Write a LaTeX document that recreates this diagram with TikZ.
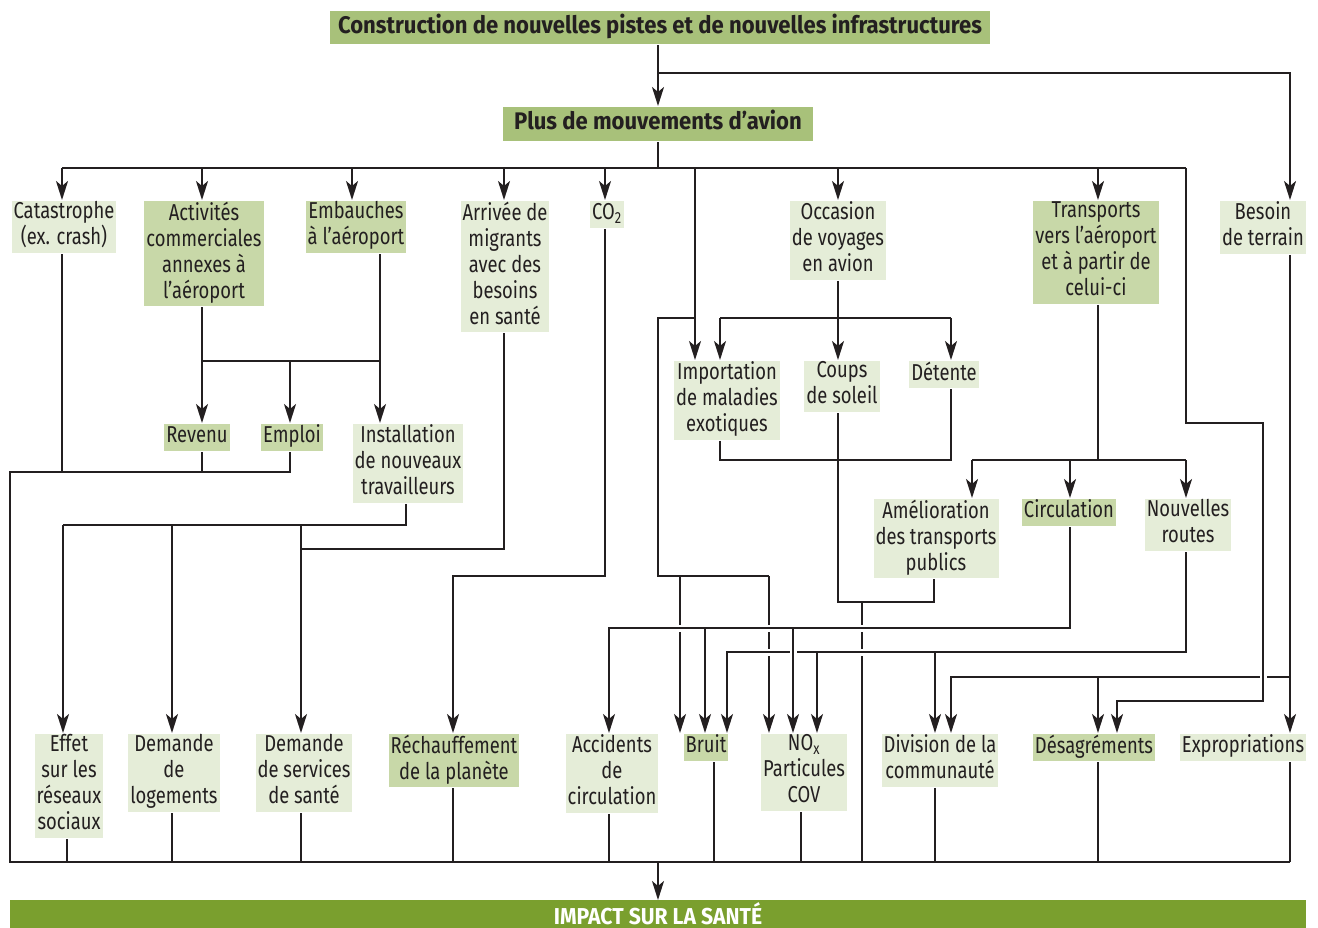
\documentclass[tikz,border=0pt]{standalone}
\usepackage{fontspec}
\setmainfont{Fira Sans}[FakeStretch=0.8]
\newfontfamily\headfont{Fira Sans}[FakeStretch=0.92]
\usetikzlibrary{arrows.meta,positioning}
\definecolor{headgreen}{HTML}{A8C17A}
\definecolor{midgreen}{HTML}{C8D8A8}
\definecolor{litegreen}{HTML}{E5EDD8}
\definecolor{impactgreen}{HTML}{7A9F2E}
\definecolor{inkgray}{HTML}{231F20}
\tikzset{
  lbl/.style={inner xsep=2pt,inner ysep=0.5pt,align=center,anchor=north,text=inkgray,
    font=\fontsize{23}{26}\selectfont,execute at begin node=\strut,execute at end node=\strut},
  lite/.style={lbl,fill=litegreen},
  mid/.style={lbl,fill=midgreen},
  head/.style={lbl,fill=headgreen,inner sep=0pt,font=\headfont\fontsize{24}{27}\selectfont\bfseries},
  arr/.style={-{Stealth[length=19pt,width=12pt,inset=5pt]}},
  bridge/.style={preaction={draw=white,line width=7pt}}
}
\begin{document}
\begin{tikzpicture}[x=1pt,y=-1pt,line width=2.2pt,color=inkgray]
\useasboundingbox (0,0) rectangle (1318,928);
\clip (0,0) rectangle (1318,928);
\fill[impactgreen] (10,900) rectangle (1306,928);
\node[head,minimum width=660,minimum height=33] (constr) at (660,10) {Construction de nouvelles pistes et de nouvelles infrastructures};
\node[head,minimum width=310,minimum height=34] (plus) at (658,106) {Plus de mouvements d’avion};
\node[inner sep=0pt,minimum height=22,anchor=north,text=white,
  font=\headfont\fontsize{23}{26}\selectfont\bfseries] (impact) at (658,901) {IMPACT SUR LA SANTÉ};
% first row
\node[lite] (catast) at (64,200) {Catastrophe\\(ex. crash)};
\node[mid] (activ) at (204,200) {Activités\\commerciales\\annexes à\\l’aéroport};
\node[mid] (embau) at (356,200) {Embauches\\à l’aéroport};
\node[lite] (arriv) at (505,200) {Arrivée de\\migrants\\avec des\\besoins\\en santé};
\node[lite] (cotwo) at (607,200) {CO\textsubscript{2}};
\node[lite] (occas) at (838,200) {Occasion\\de voyages\\en avion};
\node[mid] (transp) at (1096,200) {Transports\\vers l’aéroport\\et à partir de\\celui-ci};
\node[lite] (besoin) at (1263,200) {Besoin\\de terrain};
% second row
\node[mid] (revenu) at (197,423) {Revenu};
\node[mid] (emploi) at (292,423) {Emploi};
\node[lite] (instal) at (408,423) {Installation\\de nouveaux\\travailleurs};
\node[lite] (import) at (727,360) {Importation\\de maladies\\exotiques};
\node[lite] (coups) at (842,360) {Coups\\de soleil};
\node[lite] (detente) at (944,360) {Détente};
\node[lite] (amelio) at (936,498) {Amélioration\\des transports\\publics};
\node[mid] (circ) at (1069,498) {Circulation};
\node[lite] (nvroutes) at (1188,498) {Nouvelles\\routes};
% last row
\node[lite] (effet) at (69,733) {Effet\\sur les\\réseaux\\sociaux};
\node[lite] (logem) at (174,733) {Demande\\de\\logements};
\node[lite] (servic) at (304,733) {Demande\\de services\\de santé};
\node[mid] (rechauf) at (454,733) {Réchauffement\\de la planète};
\node[lite] (accid) at (612,733) {Accidents\\de\\circulation};
\node[mid] (bruit) at (706,733) {Bruit};
\node[lite] (nox) at (804,733) {NO\textsubscript{x}\\Particules\\COV};
\node[lite] (divis) at (940,733) {Division de la\\communauté};
\node[mid] (desagr) at (1094,733) {Désagréments};
\node[lite] (expro) at (1243,733) {Expropriations};
% spine
\draw[arr] (plus.north |- constr.south) -- (plus.north);
\draw[arr] (plus.north |- 0,73) -| (besoin.north -| 1290,0);
\draw (plus.south) -- (plus.south |- 0,168);
\draw (62,168) -- (1186,168);
\foreach \x/\n in {62/catast,202/activ,352/embau,504/arriv,605/cotwo,838/occas,1098/transp}
  \draw[arr] (\x,168) -- (\n.north -| \x,0);
\draw[arr] (695,168) -- (import.north -| 695,0);
\draw[arr] (1186,168) |- (1263,423) |- (1117,701) -- (desagr.north -| 1117,0);
% commerce and jobs
\draw (activ.south -| 202,0) -- (202,361) -- (380,361);
\draw (embau.south -| 380,0) -- (380,361);
\draw[arr] (202,361) -- (revenu.north -| 202,0);
\draw[arr] (290,361) -- (emploi.north -| 290,0);
\draw[arr] (380,361) -- (instal.north -| 380,0);
\draw (catast.south -| 62,0) -- (62,472);
\draw (revenu.south -| 202,0) -- (202,472);
\draw (emploi.south -| 290,0) |- (10,472) |- (1290,862);
\draw (instal.south -| 406,0) |- (63,525);
\draw[arr] (63,525) -- (effet.north -| 63,0);
\draw[arr] (172,525) -- (logem.north -| 172,0);
\draw[arr] (301,525) -- (servic.north -| 301,0);
\draw (arriv.south -| 504,0) |- (301,549);
\draw[arr] (cotwo.south -| 605,0) |- (453,576) -- (rechauf.north -| 453,0);
% travel
\draw (695,318) -| (658,576) -- (769,576);
\draw[arr] (769,576) -- (nox.north -| 769,0);
\draw[arr] (680,576) -- (bruit.north -| 680,0);
\draw[arr] (occas.south -| 838,0) -- (coups.north -| 838,0);
\draw (720,318) -- (951,318);
\draw[arr] (720,318) -- (import.north -| 720,0);
\draw[arr] (951,318) -- (detente.north -| 951,0);
\draw (import.south -| 720,0) |- (951,460) -- (detente.south -| 951,0);
\draw (coups.south -| 838,0) |- (934,602) -- (amelio.south -| 934,0);
\draw (862,602) -- (862,862);
% roads
\draw (transp.south -| 1098,0) -- (1098,460);
\draw (972,460) -- (1186,460);
\draw[arr] (972,460) -- (amelio.north -| 972,0);
\draw[arr] (1070,460) -- (circ.north -| 1070,0);
\draw[arr] (1186,460) -- (nvroutes.north -| 1186,0);
\draw[arr] (circ.south -| 1070,0) |- (609,628) -- (accid.north -| 609,0);
\draw[arr] (705,628) -- (bruit.north -| 705,0);
\draw[arr] (793,628) -- (nox.north -| 793,0);
\draw[arr] (nvroutes.south -| 1186,0) |- (727,652) -- (bruit.north -| 727,0);
\draw[arr] (817,652) -- (nox.north -| 817,0);
\draw[arr] (935,652) -- (divis.north -| 935,0);
% land
\draw[arr] (besoin.south -| 1290,0) -- (expro.north -| 1290,0);
\draw[arr] (1290,677) -| (divis.north -| 951,0);
\draw[arr] (1098,677) -- (desagr.north -| 1098,0);
% to impact
\foreach \x/\n in {67/effet,172/logem,301/servic,453/rechauf,609/accid,714/bruit,801/nox,935/divis,1098/desagr,1290/expro}
  \draw (\n.south -| \x,0) -- (\x,862);
\draw[arr] (658,862) -- (658,900);
% crossings
\foreach \x in {680,769,862} \draw[bridge] (\x-12,628) -- (\x+12,628);
\foreach \x in {769,862} \draw[bridge] (\x-12,652) -- (\x+12,652);
\draw[bridge] (793,640) -- (793,664);
\draw[bridge] (1263,665) -- (1263,689);
\end{tikzpicture}
\end{document}
